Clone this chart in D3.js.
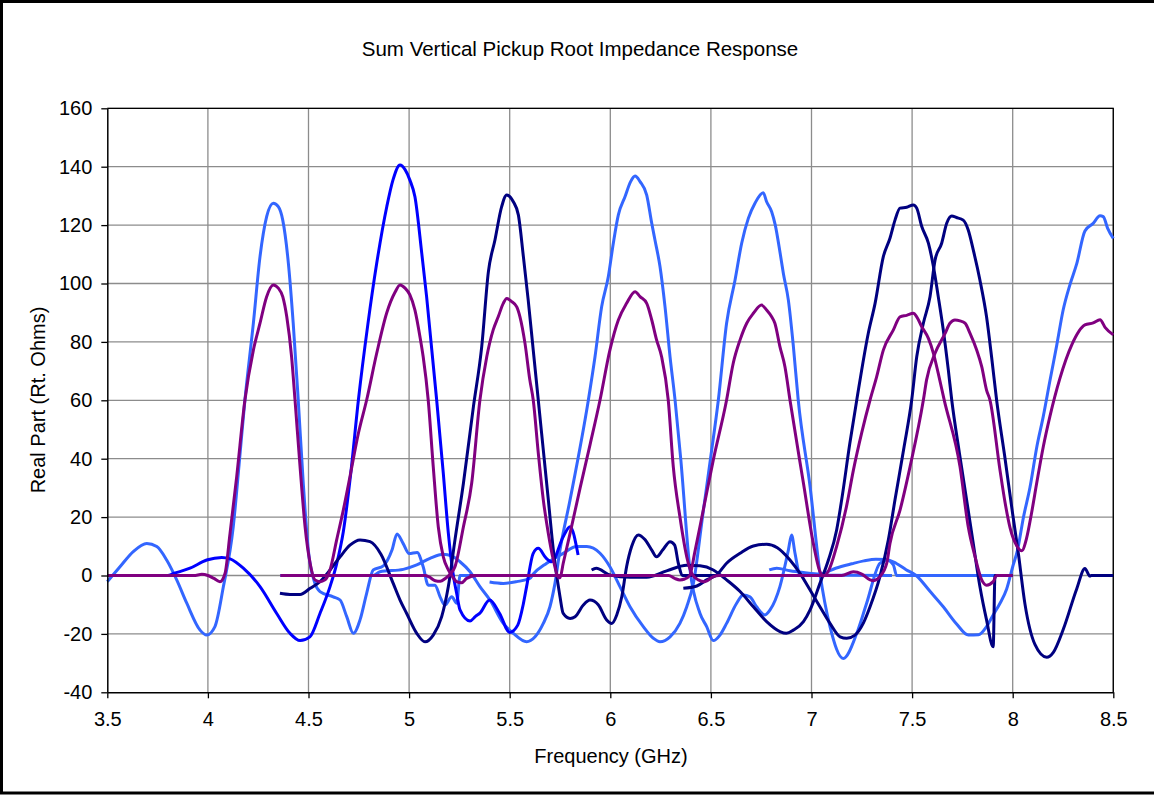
<!DOCTYPE html>
<html>
<head>
<meta charset="utf-8">
<script src="https://cdn.jsdelivr.net/npm/d3@7"></script>
<style>
  body { margin: 0; background: #fff; }
  svg text { font-family: "Liberation Sans", Arial, sans-serif; fill: #000; }
</style>
</head>
<body>
<div id="chart"></div>
<script>
// tick values
var xTicks = [3.5, 4, 4.5, 5, 5.5, 6, 6.5, 7, 7.5, 8, 8.5];
var yTicks = [-40, -20, 0, 20, 40, 60, 80, 100, 120, 140, 160];

// series values, [frequency GHz, real part]
var lightBlue1 = [[3.5,-2.1],[3.563,3],[3.629,8.2],[3.696,11],[3.746,9.9],[3.795,5.3],[3.845,-1.5],[3.895,-9.5],[3.961,-18.7],[3.994,-20.4],[4.035,-17.5],[4.077,-3.8],[4.126,16.7],[4.155,38],[4.184,60.1],[4.226,86.4],[4.259,109.2],[4.292,122.9],[4.325,127.5],[4.35,126.3],[4.372,121.7],[4.4,106.9],[4.424,86.4],[4.449,60.1],[4.474,31.6],[4.499,8.7],[4.532,-2.7],[4.557,-5.5],[4.623,-7.3],[4.657,-8.4],[4.69,-14.1],[4.723,-19.8],[4.756,-15.2],[4.789,-6.1],[4.822,1.9],[4.872,3.3],[4.915,8.7],[4.94,14.2],[4.97,11],[5.0,7.5],[5.04,7.9],[5.07,3],[5.095,-3.3],[5.129,-3.3],[5.154,-7.3],[5.178,-10.1],[5.212,-7.3],[5.237,-9.5],[5.253,0],[5.86,0]];
var lightBlue2 = [[4.36,0],[4.82,0],[4.855,1.3],[4.971,2.1],[5.038,3.6],[5.104,5.9],[5.17,7.3],[5.212,6.7],[5.253,4.7],[5.303,1.3],[5.352,-3.8],[5.402,-8.4],[5.468,-16.4],[5.518,-19.8],[5.584,-22.7],[5.626,-21],[5.667,-16.4],[5.7,-10.7],[5.725,-2.7],[5.75,8.7],[5.8,25.9],[5.891,60.1],[5.924,74.9],[5.957,92],[5.99,102.3],[6.015,113.8],[6.04,123.5],[6.073,129.7],[6.101,134.9],[6.123,136.8],[6.148,134.9],[6.181,130.3],[6.206,120.6],[6.222,114.9],[6.247,105.8],[6.272,92],[6.297,74.9],[6.322,60],[6.35,40],[6.396,2],[6.446,-13],[6.479,-17.5],[6.512,-22.3],[6.545,-20.4],[6.578,-16.4],[6.628,-9.5],[6.661,-6.7],[6.694,-7.3],[6.727,-10.7],[6.769,-13.5],[6.794,-11.8],[6.843,-3.8],[6.885,8.7],[6.901,13.9],[6.918,7.6],[6.943,0.2],[7.4,0]];
var lightBlue3 = [[5.4,-2.2],[5.468,-2.7],[5.535,-2.1],[5.6,-1],[5.617,0.5],[5.684,4.2],[5.766,7.6],[5.833,9.9],[5.883,9.9],[5.949,7.6],[5.998,3],[6.048,-3.8],[6.098,-10.7],[6.164,-17.5],[6.214,-21.5],[6.247,-22.7],[6.297,-21],[6.346,-16.4],[6.38,-10.7],[6.413,-2.7],[6.46,21],[6.5,41],[6.537,60.1],[6.578,86.4],[6.62,101.2],[6.653,113.8],[6.686,122.3],[6.719,127.5],[6.76,131.1],[6.777,128],[6.802,124.6],[6.82,120],[6.845,110],[6.86,103.5],[6.885,94.3],[6.91,78.4],[6.934,60.1],[6.993,30.4],[7.042,0.8],[7.092,-17.5],[7.158,-28.4],[7.225,-19.8],[7.274,-9.5],[7.34,4.2],[7.374,5.3],[7.407,3.6],[7.423,0],[8.0,0]];
var lightBlue4 = [[6.79,1.9],[6.827,2.5],[6.893,1.6],[6.96,1],[7.042,0.5],[7.12,2.5],[7.2,4],[7.26,5],[7.32,5.6],[7.37,5.5],[7.42,4.2],[7.47,2],[7.52,0],[7.59,-5.5],[7.655,-10.7],[7.72,-16.5],[7.78,-20.4],[7.83,-20.3],[7.87,-17.5],[7.903,-13.5],[7.937,-9.5],[7.97,-4.6],[8.0,3],[8.025,9],[8.053,19.8],[8.086,30.2],[8.12,44.1],[8.152,54.5],[8.185,66.7],[8.219,78.9],[8.251,91],[8.285,99.7],[8.318,106.7],[8.359,118],[8.4,120.6],[8.434,123.2],[8.45,122.9],[8.472,118.9],[8.5,115.4]];
var blue1 = [[3.5,0],[3.8,0],[3.83,0.7],[3.911,2.5],[3.994,5.3],[4.069,6.2],[4.11,5.7],[4.176,2.5],[4.259,-3.8],[4.342,-13],[4.408,-19.8],[4.458,-22.3],[4.507,-21],[4.557,-13],[4.607,-3.8],[4.64,4],[4.673,15],[4.71,35],[4.748,60.1],[4.795,86],[4.839,106.9],[4.889,126.3],[4.92,135.5],[4.955,140.6],[4.98,139],[5.004,135.4],[5.029,129.7],[5.063,110.3],[5.087,95.5],[5.137,60.1],[5.17,35],[5.195,14.5],[5.22,0],[5.236,-6],[5.253,-11.8],[5.303,-15.6],[5.33,-14],[5.352,-12.9],[5.4,-8.4],[5.45,-13],[5.5,-19.5],[5.54,-17],[5.567,-10],[5.584,-3.8],[5.617,7.6],[5.642,9.3],[5.68,6],[5.709,4.7],[5.766,13.3],[5.8,16.7],[5.84,7]];
var navy1 = [[4.358,-6.1],[4.408,-6.5],[4.458,-6.5],[4.508,-4.4],[4.557,-2.1],[4.607,1.9],[4.657,6.4],[4.706,10.4],[4.756,12.2],[4.806,11.6],[4.86,7.3],[4.921,-2.7],[4.955,-8.4],[4.988,-13],[5.038,-19.8],[5.079,-22.7],[5.12,-20.4],[5.162,-14.1],[5.195,-3.8],[5.228,12.2],[5.27,31.6],[5.32,58],[5.361,78.4],[5.394,104],[5.427,115],[5.46,126.3],[5.485,130.3],[5.518,128],[5.543,123.5],[5.568,109.2],[5.592,94.3],[5.617,77.2],[5.642,60.1],[5.692,25.9],[5.717,8.7],[5.75,-7.3],[5.766,-13],[5.8,-14.7],[5.825,-14.1],[5.866,-10.1],[5.899,-8.4],[5.94,-10],[5.982,-15.2],[6.007,-16.4],[6.032,-13.5],[6.057,-7.3],[6.081,3],[6.106,9.9],[6.139,13.9],[6.172,12.3],[6.206,8.7],[6.23,6.4],[6.26,8.7],[6.297,11.6],[6.32,10.4],[6.338,4.2],[6.36,0],[6.9,0]];
var navy2 = [[5.907,1.9],[5.93,2.5],[5.998,0.2],[6.098,-0.6],[6.181,-0.6],[6.28,1.6],[6.38,3.5],[6.446,3.3],[6.512,1.9],[6.578,-1.5],[6.645,-5.5],[6.711,-10.7],[6.777,-15.8],[6.843,-19.2],[6.875,-19.8],[6.91,-18.7],[6.96,-15.8],[6.993,-11.8],[7.042,-2.7],[7.084,5.3],[7.125,15.6],[7.15,25.9],[7.19,45],[7.225,60.1],[7.282,82.9],[7.316,93.2],[7.357,109.2],[7.39,115.5],[7.415,121.7],[7.44,125.8],[7.473,126.1],[7.506,126.9],[7.523,125.8],[7.548,119.5],[7.581,113.8],[7.606,105.8],[7.63,95.5],[7.655,84.1],[7.68,70.4],[7.697,60.1],[7.735,42],[7.771,25.9],[7.804,11],[7.837,-3.8],[7.87,-15.2],[7.903,-24.4],[7.912,0],[8.0,0]];
var navy3 = [[6.363,-4.4],[6.43,-3.6],[6.479,-1.5],[6.529,0.2],[6.578,4.2],[6.645,7.6],[6.711,10.1],[6.777,10.7],[6.83,9.5],[6.893,5.3],[6.943,0.7],[6.993,-5],[7.042,-10.7],[7.092,-16.4],[7.142,-21],[7.175,-21.5],[7.216,-20.4],[7.257,-16.4],[7.291,-10.7],[7.34,-0.4],[7.382,12.2],[7.415,25.9],[7.46,44],[7.498,60.1],[7.523,74.9],[7.556,86.4],[7.589,95.5],[7.614,108],[7.647,113.8],[7.672,120.6],[7.697,123.1],[7.72,122.6],[7.754,121.7],[7.779,118.3],[7.804,111.5],[7.837,101.2],[7.87,88.6],[7.895,74.9],[7.92,60.1],[7.96,41],[8.0,21],[8.028,7.6],[8.061,-9.8],[8.111,-23.7],[8.169,-28],[8.202,-26.3],[8.251,-18.5],[8.318,-4.6],[8.359,2.4],[8.384,-0.2],[8.39,0],[8.5,0]];
var purple1 = [[3.5,0],[3.93,0],[3.97,0.4],[4.0,0],[4.03,-1],[4.06,-2.1],[4.085,0.7],[4.11,14.4],[4.143,33.8],[4.184,60.1],[4.226,77.2],[4.259,86.4],[4.292,95.5],[4.325,99.5],[4.35,98.4],[4.372,95.5],[4.392,88.6],[4.416,74.9],[4.433,60.1],[4.458,37.3],[4.483,16.7],[4.508,4.2],[4.532,-1.5],[4.557,-2.1],[4.582,-1.5],[4.607,1.9],[4.64,12.2],[4.673,22.4],[4.706,33.8],[4.748,48.7],[4.789,60.1],[4.839,76.1],[4.889,90],[4.93,97],[4.955,99.5],[4.98,98.4],[5.004,96.1],[5.029,90.9],[5.054,81.8],[5.07,74.9],[5.095,60.1],[5.12,37.3],[5.145,16.7],[5.17,6.4],[5.195,1.9],[5.212,0],[5.236,-2.1],[5.261,-2.5],[5.286,-1],[5.336,0],[6.0,0]];
var purple2 = [[4.36,0],[5.08,0],[5.1,-0.5],[5.13,-1.8],[5.155,-2],[5.18,-1],[5.205,0.5],[5.228,3],[5.27,16.7],[5.311,31.6],[5.352,60.1],[5.386,74.9],[5.418,84.1],[5.443,88.6],[5.468,93.2],[5.485,94.9],[5.51,93.8],[5.535,92],[5.551,88.6],[5.576,79.5],[5.6,67],[5.617,60.1],[5.642,42],[5.667,25.9],[5.692,14.4],[5.717,5.3],[5.742,-0.6],[5.75,-0.8],[5.766,4.2],[5.8,14.4],[5.85,30],[5.9,45],[5.949,60.1],[5.998,77.2],[6.04,87.5],[6.081,93.2],[6.123,97.2],[6.148,95.5],[6.181,93.2],[6.206,87.5],[6.23,80.7],[6.255,74.9],[6.288,60.1],[6.313,37.3],[6.346,20.1],[6.38,6.4],[6.405,0.7],[6.437,-1.5],[6.47,-2.1],[6.512,-0.4],[6.54,0],[7.0,0]];
var purple3 = [[5.3,0],[6.29,0],[6.32,-1],[6.346,-1.5],[6.37,-1.2],[6.395,0],[6.42,8],[6.462,22.4],[6.512,39.6],[6.578,60.1],[6.611,72.7],[6.645,80.7],[6.678,86.4],[6.711,89.8],[6.752,92.6],[6.777,90.9],[6.802,88.6],[6.818,86.4],[6.843,78.4],[6.868,71.5],[6.893,60.1],[6.96,31.6],[7.009,11],[7.042,1.3],[7.058,-0.2],[7.084,1.5],[7.125,10],[7.175,24],[7.208,36],[7.25,49],[7.291,60.1],[7.324,68.1],[7.357,77.2],[7.407,84.1],[7.44,88.6],[7.473,89.1],[7.506,89.8],[7.523,88.6],[7.548,85.2],[7.581,81.2],[7.606,76.1],[7.63,69.2],[7.66,60],[7.738,37.3],[7.779,16.7],[7.813,6.4],[7.846,-1.5],[7.87,-3.3],[7.903,-2.1],[7.92,0],[8.0,0]];
var purple4 = [[6.9,0],[7.15,0],[7.208,1.3],[7.25,0.5],[7.291,-1.5],[7.307,-1.8],[7.34,-0.4],[7.374,4.2],[7.39,11],[7.44,22.4],[7.49,37.3],[7.556,60.1],[7.572,67],[7.614,76.1],[7.664,82.9],[7.688,86.4],[7.713,87.5],[7.738,87.2],[7.763,86.4],[7.788,82.9],[7.821,77.2],[7.846,71.5],[7.87,63.5],[7.887,60.1],[7.937,36],[7.962,25],[7.987,16.3],[8.02,10.2],[8.045,8.5],[8.069,12.8],[8.094,21.5],[8.12,31.9],[8.152,44.1],[8.185,54.5],[8.235,67.6],[8.293,78.9],[8.359,85.8],[8.4,86.5],[8.434,87.6],[8.459,85],[8.5,82.4]];

// drawing order and colours
var series = [
    {data: lightBlue1, color: "#3366ff"},
    {data: lightBlue2, color: "#3366ff"},
    {data: lightBlue3, color: "#3366ff"},
    {data: lightBlue4, color: "#3366ff"},
    {data: blue1, color: "#0000ff"},
    {data: navy1, color: "#000080"},
    {data: navy2, color: "#000080"},
    {data: navy3, color: "#000080"},
    {data: purple1, color: "#800080"},
    {data: purple2, color: "#800080"},
    {data: purple3, color: "#800080"},
    {data: purple4, color: "#800080"}
];

drawChart();

function drawChart() {
    const W = 1154, H = 796;
    const left = 107.3, right = 1113.3, top = 108.3, bottom = 692.3;

    const svg = d3.select("#chart")
        .append("svg")
        .attr("width", W)
        .attr("height", H);

    // outer frame
    svg.append("rect")
        .attr("x", 1.5).attr("y", 1.5)
        .attr("width", W + 4).attr("height", H - 4.5)
        .attr("fill", "#fff")
        .attr("stroke", "#000")
        .attr("stroke-width", 3);

    const xScale = d3.scaleLinear().domain([3.5, 8.5]).range([left, right]);
    const yScale = d3.scaleLinear().domain([-40, 160]).range([bottom, top]);

    // gridlines
    svg.append("g")
        .selectAll("line.vgrid")
        .data(xTicks.slice(1))
        .join("line")
        .attr("x1", d => xScale(d)).attr("x2", d => xScale(d))
        .attr("y1", top).attr("y2", bottom)
        .attr("stroke", "#8c8c8c")
        .attr("stroke-width", 1.3);

    svg.append("g")
        .selectAll("line.hgrid")
        .data(yTicks.slice(1))
        .join("line")
        .attr("x1", left).attr("x2", right)
        .attr("y1", d => yScale(d)).attr("y2", d => yScale(d))
        .attr("stroke", "#8c8c8c")
        .attr("stroke-width", 1.3);

    // plot border (top and right)
    svg.append("path")
        .attr("d", `M${left},${top}H${right}V${bottom}`)
        .attr("fill", "none")
        .attr("stroke", "#000")
        .attr("stroke-width", 1.3);

    // lines
    const line = d3.line()
        .x(d => xScale(d[0]))
        .y(d => yScale(d[1]))
        .curve(d3.curveMonotoneX);

    svg.append("g")
        .selectAll("path")
        .data(series)
        .join("path")
        .attr("fill", "none")
        .attr("stroke", d => d.color)
        .attr("stroke-width", 3)
        .attr("stroke-linejoin", "round")
        .attr("d", d => line(d.data));

    // axes
    const xAxis = d3.axisBottom(xScale)
        .tickValues(xTicks)
        .tickFormat(d => String(d))
        .tickSize(6)
        .tickSizeOuter(0)
        .tickPadding(14);

    const yAxis = d3.axisLeft(yScale)
        .tickValues(yTicks)
        .tickFormat(d => String(d))
        .tickSize(6)
        .tickSizeOuter(0)
        .tickPadding(9);

    const gx = svg.append("g")
        .attr("transform", `translate(0,${bottom})`)
        .call(xAxis);
    const gy = svg.append("g")
        .attr("transform", `translate(${left},0)`)
        .call(yAxis);

    [gx, gy].forEach(g => {
        g.select(".domain").attr("stroke", "#000").attr("stroke-width", 1.5);
        g.selectAll(".tick line").attr("stroke", "#000").attr("stroke-width", 1.3);
        g.selectAll(".tick text")
            .attr("font-family", "Liberation Sans, Arial, sans-serif")
            .attr("font-size", 20)
            .attr("fill", "#000");
    });

    // title
    svg.append("text")
        .attr("x", 580)
        .attr("y", 56)
        .attr("text-anchor", "middle")
        .attr("font-size", 20.5)
        .text("Sum Vertical Pickup Root Impedance Response");

    // x axis label
    svg.append("text")
        .attr("x", 611)
        .attr("y", 763)
        .attr("text-anchor", "middle")
        .attr("font-size", 20)
        .text("Frequency (GHz)");

    // y axis label
    svg.append("text")
        .attr("transform", `translate(45,400) rotate(-90)`)
        .attr("text-anchor", "middle")
        .attr("font-size", 20)
        .text("Real Part (Rt. Ohms)");
}
</script>
</body>
</html>
